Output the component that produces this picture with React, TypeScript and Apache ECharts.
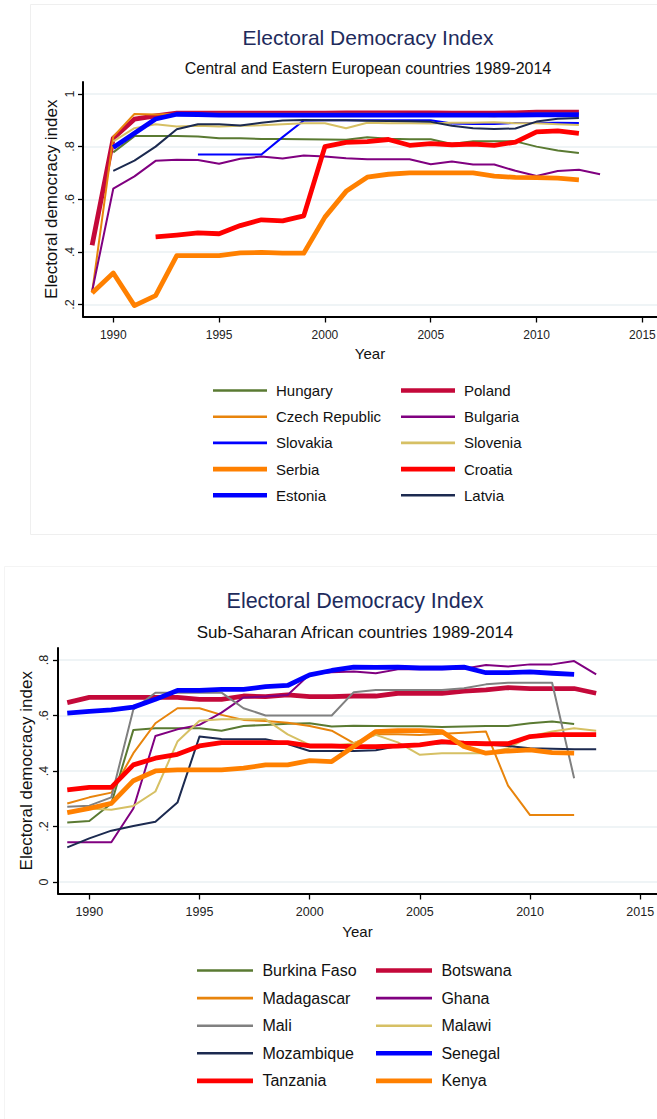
import React, { useEffect, useRef } from "react";
import * as echarts from "echarts";

const years = [1989, 1990, 1991, 1992, 1993, 1994, 1995, 1996, 1997, 1998, 1999, 2000, 2001, 2002, 2003, 2004, 2005, 2006, 2007, 2008, 2009, 2010, 2011, 2012, 2013];
const xTicks = [1990, 1995, 2000, 2005, 2010, 2015];
const yTicksTop = [0.2, 0.4, 0.6, 0.8, 1];
const yTicksBottom = [0, 0.2, 0.4, 0.6, 0.8];

// Central and Eastern Europe (1989..2013)
const hungary = [null, 0.778, 0.84, 0.84, 0.84, 0.838, 0.832, 0.832, 0.829, 0.829, 0.828, 0.827, 0.826, 0.836, 0.83, 0.828, 0.828, 0.81, 0.82, 0.82, 0.82, 0.8, 0.785, 0.776, null];
const poland = [0.425, 0.832, 0.904, 0.917, 0.927, 0.927, 0.927, 0.927, 0.927, 0.927, 0.927, 0.927, 0.928, 0.928, 0.928, 0.928, 0.928, 0.927, 0.927, 0.927, 0.928, 0.931, 0.931, 0.931, null];
const czech = [0.245, 0.838, 0.924, 0.922, 0.925, 0.925, 0.925, 0.925, 0.925, 0.925, 0.925, 0.925, 0.925, 0.925, 0.925, 0.924, 0.924, 0.922, 0.918, 0.915, 0.92, 0.926, 0.926, 0.926, null];
const bulgaria = [0.25, 0.64, 0.687, 0.746, 0.75, 0.749, 0.735, 0.754, 0.762, 0.755, 0.766, 0.762, 0.756, 0.752, 0.752, 0.752, 0.733, 0.743, 0.732, 0.732, 0.708, 0.688, 0.707, 0.712, 0.695];
const slovakia = [null, null, null, null, null, 0.77, 0.77, 0.77, 0.77, 0.836, 0.899, 0.9, 0.9, 0.9, 0.9, 0.9, 0.9, 0.888, 0.886, 0.886, 0.89, 0.89, 0.891, 0.89, null];
const slovenia = [null, 0.82, 0.87, 0.885, 0.876, 0.879, 0.876, 0.879, 0.881, 0.885, 0.889, 0.889, 0.87, 0.891, 0.889, 0.889, 0.888, 0.891, 0.891, 0.893, 0.889, 0.889, 0.885, 0.882, null];
const serbia = [0.244, 0.32, 0.196, 0.234, 0.386, 0.386, 0.386, 0.396, 0.398, 0.395, 0.395, 0.532, 0.63, 0.684, 0.695, 0.7, 0.7, 0.7, 0.7, 0.688, 0.683, 0.682, 0.68, 0.674, null];
const croatia = [null, null, null, 0.457, 0.464, 0.472, 0.469, 0.5, 0.522, 0.518, 0.537, 0.8, 0.816, 0.819, 0.827, 0.805, 0.811, 0.807, 0.81, 0.805, 0.817, 0.856, 0.86, 0.85, null];
const estonia = [null, 0.797, 0.851, 0.905, 0.923, 0.922, 0.92, 0.92, 0.92, 0.92, 0.92, 0.92, 0.92, 0.92, 0.92, 0.92, 0.92, 0.92, 0.92, 0.92, 0.92, 0.921, 0.921, 0.921, null];
const latvia = [null, 0.708, 0.747, 0.8, 0.866, 0.885, 0.885, 0.88, 0.891, 0.899, 0.901, 0.9, 0.9, 0.898, 0.897, 0.896, 0.894, 0.879, 0.87, 0.867, 0.869, 0.895, 0.906, 0.909, null];

// Sub-Saharan Africa (1989..2013)
const burkinaFaso = [0.214, 0.22, 0.283, 0.548, 0.554, 0.554, 0.554, 0.545, 0.562, 0.566, 0.57, 0.572, 0.56, 0.563, 0.562, 0.561, 0.561, 0.558, 0.56, 0.562, 0.562, 0.572, 0.578, 0.569, null];
const botswana = [0.646, 0.665, 0.665, 0.665, 0.665, 0.665, 0.658, 0.658, 0.67, 0.668, 0.674, 0.668, 0.668, 0.67, 0.67, 0.68, 0.68, 0.68, 0.688, 0.692, 0.7, 0.697, 0.697, 0.697, 0.68];
const madagascar = [0.283, 0.305, 0.322, 0.464, 0.572, 0.626, 0.626, 0.602, 0.584, 0.58, 0.574, 0.562, 0.545, 0.5, 0.532, 0.532, 0.53, 0.534, 0.538, 0.542, 0.347, 0.241, 0.241, 0.241, null];
const ghana = [0.143, 0.143, 0.143, 0.265, 0.526, 0.55, 0.566, 0.61, 0.665, 0.668, 0.674, 0.748, 0.756, 0.758, 0.752, 0.766, 0.766, 0.766, 0.768, 0.782, 0.776, 0.784, 0.784, 0.796, 0.748];
const mali = [0.271, 0.275, 0.305, 0.622, 0.682, 0.682, 0.682, 0.682, 0.626, 0.6, 0.6, 0.6, 0.6, 0.684, 0.692, 0.692, 0.692, 0.692, 0.698, 0.712, 0.718, 0.718, 0.718, 0.374, null];
const malawi = [null, 0.265, 0.26, 0.274, 0.326, 0.506, 0.581, 0.586, 0.586, 0.586, 0.532, 0.494, 0.49, 0.5, 0.53, 0.503, 0.458, 0.464, 0.464, 0.464, 0.482, 0.524, 0.542, 0.554, 0.545];
const mozambique = [0.125, 0.157, 0.185, 0.202, 0.217, 0.286, 0.524, 0.515, 0.514, 0.514, 0.497, 0.472, 0.472, 0.472, 0.475, 0.49, 0.495, 0.5, 0.5, 0.495, 0.49, 0.482, 0.48, 0.478, 0.478];
const senegal = [0.608, 0.615, 0.62, 0.63, 0.658, 0.69, 0.69, 0.694, 0.694, 0.704, 0.708, 0.746, 0.762, 0.774, 0.773, 0.774, 0.771, 0.771, 0.774, 0.754, 0.754, 0.757, 0.752, 0.748, null];
const tanzania = [0.332, 0.341, 0.341, 0.422, 0.446, 0.46, 0.49, 0.502, 0.502, 0.502, 0.502, 0.49, 0.49, 0.488, 0.488, 0.49, 0.494, 0.506, 0.5, 0.498, 0.498, 0.524, 0.531, 0.531, 0.531];
const kenya = [0.25, 0.265, 0.283, 0.365, 0.4, 0.404, 0.404, 0.404, 0.41, 0.422, 0.422, 0.437, 0.434, 0.488, 0.542, 0.545, 0.545, 0.542, 0.488, 0.464, 0.472, 0.476, 0.466, 0.464, null];

const C = {
  olive: "#5a7a32",
  orangeDark: "#e8840c",
  blue: "#0000ff",
  orange: "#ff8000",
  crimson: "#c4093a",
  purple: "#800080",
  sand: "#d6c064",
  red: "#ff0000",
  navy: "#1c2a50",
  gray: "#808080",
};
const THIN = 2;
const THICK = 4.8;

const topSeries = [
  { name: "Hungary", values: hungary, color: C.olive, width: THIN },
  { name: "Poland", values: poland, color: C.crimson, width: THICK },
  { name: "Czech Republic", values: czech, color: C.orangeDark, width: THIN },
  { name: "Bulgaria", values: bulgaria, color: C.purple, width: THIN },
  { name: "Slovakia", values: slovakia, color: C.blue, width: THIN },
  { name: "Slovenia", values: slovenia, color: C.sand, width: THIN },
  { name: "Serbia", values: serbia, color: C.orange, width: THICK },
  { name: "Croatia", values: croatia, color: C.red, width: THICK },
  { name: "Estonia", values: estonia, color: C.blue, width: THICK },
  { name: "Latvia", values: latvia, color: C.navy, width: THIN },
];
const bottomSeries = [
  { name: "Burkina Faso", values: burkinaFaso, color: C.olive, width: THIN },
  { name: "Botswana", values: botswana, color: C.crimson, width: THICK },
  { name: "Madagascar", values: madagascar, color: C.orangeDark, width: THIN },
  { name: "Ghana", values: ghana, color: C.purple, width: THIN },
  { name: "Mali", values: mali, color: C.gray, width: THIN },
  { name: "Malawi", values: malawi, color: C.sand, width: THIN },
  { name: "Mozambique", values: mozambique, color: C.navy, width: THIN },
  { name: "Senegal", values: senegal, color: C.blue, width: THICK },
  { name: "Tanzania", values: tanzania, color: C.red, width: THICK },
  { name: "Kenya", values: kenya, color: C.orange, width: THICK },
];
const topLegendCol1 = ["Hungary", "Czech Republic", "Slovakia", "Serbia", "Estonia"];
const topLegendCol2 = ["Poland", "Bulgaria", "Slovenia", "Croatia", "Latvia"];
const bottomLegendCol1 = ["Burkina Faso", "Madagascar", "Mali", "Mozambique", "Tanzania"];
const bottomLegendCol2 = ["Botswana", "Ghana", "Malawi", "Senegal", "Kenya"];

const NARROW = "'Liberation Sans Narrow', 'Arial Narrow', 'Liberation Sans', Arial, sans-serif";
const SANS = "'Liberation Sans', Arial, sans-serif";
const TITLE_COLOR = "#1e2b5c";
const GRID_COLOR = "#eaf0f3";

const fmtY = (v: number) => (v === 0 ? "0" : v === 1 ? "1" : String(v).replace(/^0/, ""));

function App() {
  const ref = useRef<HTMLDivElement>(null);
  useEffect(() => {
    if (!ref.current) return;
    const chart = echarts.init(ref.current, null, { renderer: "svg" });

    const allSeries = [...topSeries, ...bottomSeries];
    const widthOf: Record<string, number> = {};
    allSeries.forEach((s) => (widthOf[s.name] = s.width));

    const mkSeries = (s: any, idx: number) => ({
      type: "line",
      name: s.name,
      xAxisIndex: idx,
      yAxisIndex: idx,
      symbol: "none",
      silent: true,
      lineStyle: { color: s.color, width: s.width, join: "round", cap: "butt" },
      itemStyle: { color: s.color },
      data: years
        .map((y, i) => (s.values[i] == null ? null : [y, s.values[i]]))
        .filter((d) => d !== null),
    });

    const legendData = (names: string[], iw: number) =>
      names.map((n) => ({
        name: n,
        icon: widthOf[n] > 3 ? `path://M0,0H${iw}V4.6H0Z` : `path://M0,0H${iw}V2.6H0Z`,
      }));

    const mkLegend = (names: string[], left: number, top: number, iw: number, gap: number, fs: number, pad: number) => ({
      orient: "vertical",
      left,
      top,
      padding: 0,
      itemWidth: iw,
      itemHeight: 14,
      itemGap: gap,
      selectedMode: false,
      symbolKeepAspect: true,
      itemStyle: { borderWidth: 0 },
      textStyle: { fontFamily: NARROW, fontSize: fs, color: "#111", lineHeight: 14, padding: [0, 0, 0, pad] },
      data: legendData(names, iw),
    });

    const mkXAxis = (idx: number, min: number, max: number, fs: number, margin: number, gap: number) => ({
      type: "value",
      gridIndex: idx,
      min,
      max,
      name: "Year",
      nameLocation: "middle",
      nameGap: gap,
      nameMoveOverlap: false,
      nameTextStyle: { fontFamily: NARROW, fontSize: 15, color: "#111" },
      axisLine: { show: true, onZero: false, lineStyle: { color: "#000", width: 2 } },
      axisTick: { show: true, inside: false, length: 6, customValues: xTicks, lineStyle: { color: "#000", width: 1.3 } },
      axisLabel: { customValues: xTicks, margin, fontFamily: NARROW, fontSize: fs, color: "#222", formatter: (v: number) => String(v) },
      splitLine: { show: false },
    });

    const mkYAxis = (idx: number, min: number, max: number, ticks: number[], margin: number, gap: number) => ({
      type: "value",
      gridIndex: idx,
      min,
      max,
      name: "Electoral democracy index",
      nameLocation: "middle",
      nameGap: gap,
      nameRotate: 90,
      nameMoveOverlap: false,
      nameTextStyle: { fontFamily: SANS, fontSize: 17, color: "#111" },
      axisLine: { show: true, onZero: false, lineStyle: { color: "#000", width: 2 } },
      axisTick: { show: true, inside: false, length: 5, customValues: ticks, lineStyle: { color: "#000", width: 1.3 } },
      axisLabel: { customValues: ticks, rotate: 90, margin, fontFamily: SANS, fontSize: 12.5, color: "#222", formatter: fmtY },
      splitLine: { show: true, lineStyle: { color: GRID_COLOR, width: 1.6 } },
    });

    const option: any = {
      animation: false,
      backgroundColor: "#fff",
      title: [
        { text: "Electoral Democracy Index", left: 368, top: 27, textAlign: "center", padding: 0, textStyle: { fontFamily: NARROW, fontSize: 21, fontWeight: "normal", color: TITLE_COLOR } },
        { text: "Central and Eastern European countries 1989-2014", left: 368, top: 60, textAlign: "center", padding: 0, textStyle: { fontFamily: NARROW, fontSize: 16, fontWeight: "normal", color: "#111" } },
        { text: "Electoral Democracy Index", left: 355, top: 590, textAlign: "center", padding: 0, textStyle: { fontFamily: NARROW, fontSize: 21.5, fontWeight: "normal", color: TITLE_COLOR } },
        { text: "Sub-Saharan African countries 1989-2014", left: 355, top: 623.5, textAlign: "center", padding: 0, textStyle: { fontFamily: NARROW, fontSize: 17, fontWeight: "normal", color: "#111" } },
      ],
      legend: [
        mkLegend(topLegendCol1, 213, 383, 54, 11.2, 15, 4),
        mkLegend(topLegendCol2, 401, 383, 54, 11.2, 15, 4),
        mkLegend(bottomLegendCol1, 197, 962.5, 56, 11.6, 16, 4.4),
        mkLegend(bottomLegendCol2, 376, 962.5, 56, 11.6, 16, 4.4),
      ],
      graphic: [
        { type: "rect", silent: true, z: -1, shape: { x: 30.5, y: 4.5, width: 700, height: 530 }, style: { fill: "none", stroke: "#efefef", lineWidth: 1 } },
        { type: "rect", silent: true, z: -1, shape: { x: 4.5, y: 566.5, width: 700, height: 600 }, style: { fill: "none", stroke: "#f4f4f4", lineWidth: 1 } },
      ],
      grid: [
        { left: 83, top: 82, width: 574, height: 234.5, outerBoundsMode: "none", containLabel: false },
        { left: 58, top: 648, width: 599, height: 245.5, outerBoundsMode: "none", containLabel: false },
      ],
      xAxis: [mkXAxis(0, 1988.57, 2015.69, 12, 12, 29), mkXAxis(1, 1988.58, 2015.76, 12.5, 12, 30)],
      yAxis: [mkYAxis(0, 0.1545, 1.0455, yTicksTop, 7, 23), mkYAxis(1, -0.0414, 0.843, yTicksBottom, 8, 23)],
      series: [...topSeries.map((s) => mkSeries(s, 0)), ...bottomSeries.map((s) => mkSeries(s, 1))],
    };
    chart.setOption(option);
    return () => chart.dispose();
  }, []);
  return <div ref={ref} style={{ position: "absolute", left: 0, top: 0, width: 657, height: 1119 }} />;
}

export default App;
